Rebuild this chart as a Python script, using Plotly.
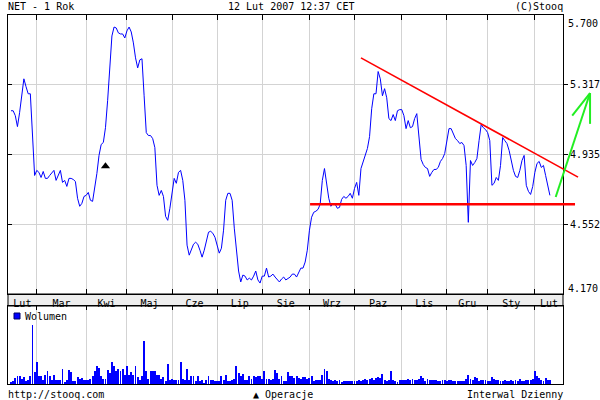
import plotly.graph_objects as go

W, H = 600, 400

# ---------------- data ----------------
price = [
    5.175, 5.175, 5.148, 5.088, 5.164, 5.268, 5.350, 5.307, 5.268, 5.268,
    5.066, 4.820, 4.848, 4.837, 4.809, 4.842, 4.804, 4.804, 4.820, 4.837,
    4.848, 4.793, 4.820, 4.848, 4.782, 4.793, 4.760, 4.804, 4.804, 4.798,
    4.787, 4.695, 4.651, 4.667, 4.705, 4.711, 4.727, 4.684, 4.678, 4.744,
    4.831, 4.930, 4.990, 5.001, 5.082, 5.230, 5.383, 5.585, 5.634, 5.629,
    5.602, 5.596, 5.596, 5.574, 5.613, 5.634, 5.607, 5.547, 5.465, 5.410,
    5.454, 5.460, 5.257, 5.055, 5.039, 5.039, 5.022, 4.973, 4.766, 4.711,
    4.738, 4.705, 4.596, 4.574, 4.640, 4.711, 4.804, 4.777, 4.837, 4.848,
    4.793, 4.684, 4.438, 4.383, 4.410, 4.443, 4.454, 4.443, 4.410, 4.372,
    4.410, 4.465, 4.509, 4.514, 4.503, 4.481, 4.443, 4.394, 4.421, 4.520,
    4.684, 4.722, 4.722, 4.684, 4.531, 4.421, 4.296, 4.236, 4.274, 4.268,
    4.247, 4.257, 4.247, 4.268, 4.296, 4.247, 4.230, 4.268, 4.268, 4.312,
    4.263, 4.268, 4.279, 4.263, 4.247, 4.236, 4.252, 4.263, 4.247, 4.257,
    4.263, 4.279, 4.279, 4.263, 4.290, 4.312, 4.312, 4.345, 4.410, 4.520,
    4.591, 4.618, 4.624, 4.634, 4.662, 4.793, 4.858, 4.766, 4.695, 4.651,
    4.667, 4.662, 4.640, 4.645, 4.689, 4.705, 4.695, 4.705, 4.722, 4.695,
    4.749, 4.782, 4.711, 4.858, 4.891, 4.930, 4.968, 5.033, 5.186, 5.268,
    5.268, 5.390, 5.350, 5.257, 5.296, 5.246, 5.132, 5.121, 5.154, 5.121,
    5.175, 5.181, 5.181, 5.148, 5.077, 5.121, 5.082, 5.088, 5.132, 5.159,
    5.011, 4.908, 4.880, 4.864, 4.858, 4.815, 4.837, 4.853, 4.853, 4.864,
    4.897, 4.913, 4.940, 5.022, 5.077, 5.077, 5.050, 5.022, 5.011, 4.995,
    5.001, 4.984, 4.875, 4.563, 4.902, 4.875, 4.891, 4.913, 5.011, 5.099,
    5.082, 5.072, 5.055, 5.011, 4.766, 4.777, 4.809, 4.793, 4.875, 5.028,
    5.011, 4.995, 4.957, 4.891, 4.848, 4.815, 4.809, 4.848, 4.902, 4.930,
    4.766, 4.733, 4.716, 4.760, 4.837, 4.886, 4.897, 4.864, 4.875, 4.820,
    4.760, 4.711,
]

volume = [
    17, 27, 60, 80, 77, 53, 70, 27, 37, 77,
    590, 120, 220, 83, 77, 43, 93, 133, 83, 37,
    93, 43, 43, 43, 150, 20, 45, 137, 120, 27,
    27, 70, 50, 60, 37, 37, 43, 50, 77, 133,
    183, 160, 77, 50, 50, 143, 110, 217, 183, 127,
    150, 127, 150, 93, 177, 93, 117, 93, 183, 70,
    37, 83, 433, 133, 50, 133, 127, 133, 87, 93,
    50, 70, 27, 203, 43, 50, 43, 37, 37, 217,
    50, 43, 150, 37, 83, 83, 27, 83, 27, 37,
    10, 37, 77, 37, 37, 27, 27, 27, 83, 43,
    93, 27, 27, 37, 50, 177, 110, 83, 103, 37,
    37, 83, 50, 77, 70, 77, 83, 50, 127, 50,
    50, 43, 50, 143, 110, 50, 77, 27, 30, 117,
    83, 77, 60, 77, 60, 50, 67, 70, 55, 60,
    83, 30, 37, 37, 43, 87, 153, 127, 50, 43,
    27, 37, 27, 43, 25, 27, 33, 33, 33, 33,
    33, 33, 43, 27, 43, 50, 43, 50, 60, 43,
    60, 70, 60, 100, 43, 27, 43, 127, 37, 27,
    20, 43, 37, 43, 43, 50, 43, 50, 43, 43,
    50, 83, 60, 27, 50, 43, 43, 37, 37, 33,
    33, 37, 37, 27, 37, 37, 27, 27, 27, 27,
    33, 27, 50, 93, 50, 43, 67, 60, 27, 43,
    37, 37, 27, 27, 70, 50, 37, 43, 27, 27,
    37, 27, 27, 43, 27, 37, 27, 50, 27, 27,
    43, 43, 43, 50, 133, 83, 60, 37, 27, 60,
    37, 37,
]

days = list(range(len(price)))

month_names = ["Lut", "Mar", "Kwi", "Maj", "Cze", "Lip", "Sie",
               "Wrz", "Paz", "Lis", "Gru", "Sty", "Lut"]
month_starts = [12, 35, 54, 75, 96, 117, 139, 160, 182, 203, 222, 244]

x_range = [-1.4, 257.1]
y_range = [4.170, 5.700]
y_grid = [4.5525, 4.935, 5.3175]
y_grid_text = ["4.552", "4.935", "5.317"]
vol_range = [0, 780]

op_day = [44]
op_price = [4.870]

support_days = [139.3, 262.7]
support_vals = [4.662, 4.662]
resist_days = [163.0, 264.1]
resist_vals = [5.465, 4.811]
arrow_days = [253.7, 269.7]
arrow_vals = [4.702, 5.272]
arrow_left_days = [261.4, 269.7]
arrow_left_vals = [5.148, 5.272]
arrow_right_days = [269.7, 269.7]
arrow_right_vals = [5.103, 5.272]

# ---------------- layout helpers ----------------
FONT = "DejaVu Sans Mono"
font = dict(family=FONT, size=10, color="black")


def px(p):
    return p / W


def py(p):
    return 1 - p / H


edges = [x_range[0]] + month_starts + [x_range[1]]
label_pos = [(a + b) / 2 for a, b in zip(edges[:-1], edges[1:])]

main_l, main_r = 8, 563
ext_r = 598
scale = (x_range[1] - x_range[0]) / (main_r - main_l)
x3_range = [x_range[0], x_range[0] + (ext_r - main_l) * scale]

GRID = "#d3d3d3"

fig = go.Figure()
fig.add_trace(go.Scatter(x=days, y=price, mode="lines",
                         line=dict(color="#0000ff", width=1),
                         xaxis="x", yaxis="y", hoverinfo="skip"))
fig.add_trace(go.Scatter(x=op_day, y=op_price, mode="markers",
                         marker=dict(symbol="triangle-up", size=8, color="black"),
                         xaxis="x", yaxis="y4", hoverinfo="skip"))
fig.add_trace(go.Bar(x=days, y=volume, width=0.42,
                     marker=dict(color="#0000ff", line=dict(width=0)),
                     xaxis="x2", yaxis="y2", hoverinfo="skip"))
fig.add_trace(go.Scatter(x=support_days, y=support_vals, mode="lines",
                         line=dict(color="#ff0000", width=2.4),
                         xaxis="x3", yaxis="y3", hoverinfo="skip"))
fig.add_trace(go.Scatter(x=resist_days, y=resist_vals, mode="lines",
                         line=dict(color="#ff0000", width=1.6),
                         xaxis="x3", yaxis="y3", hoverinfo="skip"))
for xs, ys in [(arrow_days, arrow_vals), (arrow_left_days, arrow_left_vals),
               (arrow_right_days, arrow_right_vals)]:
    fig.add_trace(go.Scatter(x=xs, y=ys, mode="lines",
                             line=dict(color="#22ee22", width=2),
                             xaxis="x3", yaxis="y3", hoverinfo="skip"))

main_ydom = [py(294), py(15)]

fig.update_layout(
    width=W, height=H,
    margin=dict(l=0, r=0, t=0, b=0),
    paper_bgcolor="white", plot_bgcolor="rgba(0,0,0,0)",
    showlegend=False,
    font=font,
    xaxis=dict(domain=[px(main_l), px(main_r)], range=x_range, anchor="y",
               showline=True, linecolor="black", linewidth=1, mirror="allticks",
               tickmode="array", tickvals=label_pos, ticktext=month_names,
               ticks="", tickfont=font, showgrid=False, zeroline=False,
               minor=dict(tickmode="array", tickvals=month_starts, ticks="inside",
                          ticklen=5, tickcolor="black", showgrid=True,
                          gridcolor=GRID, gridwidth=1)),
    yaxis=dict(domain=main_ydom, range=y_range, anchor="x",
               showline=True, linecolor="black", linewidth=1, mirror=True,
               tickmode="array", tickvals=y_grid, ticks="inside", ticklen=4,
               tickcolor="black", showticklabels=False, showgrid=True,
               gridcolor=GRID, zeroline=False),
    yaxis4=dict(overlaying="y", side="right", range=y_range, anchor="x",
                tickmode="array", tickvals=y_grid, ticktext=y_grid_text,
                ticks="outside", ticklen=4, tickcolor="black", showgrid=False,
                showline=False, zeroline=False, tickfont=font),
    xaxis2=dict(domain=[px(main_l), px(main_r)], range=x_range, anchor="y2",
                side="top", showline=True, linecolor="black", mirror=True,
                tickmode="array", tickvals=month_starts, ticks="inside",
                ticklen=4, tickcolor="black", showticklabels=False,
                showgrid=True, gridcolor=GRID, zeroline=False),
    yaxis2=dict(domain=[py(384), py(306)], range=vol_range, anchor="x2",
                showline=True, linecolor="black", mirror=True,
                showticklabels=False, ticks="", showgrid=False, zeroline=False),
    xaxis3=dict(domain=[px(main_l), px(ext_r)], range=x3_range, anchor="y3",
                visible=False),
    yaxis3=dict(domain=main_ydom, range=y_range, anchor="x3", visible=False),
    bargap=0,
)

shapes = [
    dict(type="rect", xref="paper", yref="paper", x0=px(main_l), x1=px(main_r),
         y0=py(306), y1=py(294), fillcolor="#eeeeee",
         line=dict(color="black", width=1), layer="below"),
    dict(type="rect", xref="paper", yref="paper", x0=px(14), x1=px(20),
         y0=py(319), y1=py(313), fillcolor="#0000ff",
         line=dict(color="#000066", width=1), layer="above"),
]
fig.update_layout(shapes=shapes)


def ann(text, x, y, xanchor="left"):
    return dict(text=text, x=px(x), y=py(y), xref="paper", yref="paper",
                xanchor=xanchor, yanchor="middle", showarrow=False,
                font=font, borderpad=0)


annotations = [
    ann("NET - 1 Rok", 7, 7),
    ann("12 Lut 2007 12:37 CET", 290.5, 7, "center"),
    ann("(C)Stooq", 564, 7, "right"),
    ann("5.700", 567, 23),
    ann("4.170", 567, 288),
    ann("Wolumen", 24, 316),
    ann("http://stooq.com", 7, 394),
    ann("\u25b2 Operacje", 252, 394),
    ann("Interwal Dzienny", 564, 394, "right"),
]
fig.update_layout(annotations=annotations)

fig.write_html("out.html", config={"displayModeBar": False},
               post_script="document.body.style.margin='0';")
